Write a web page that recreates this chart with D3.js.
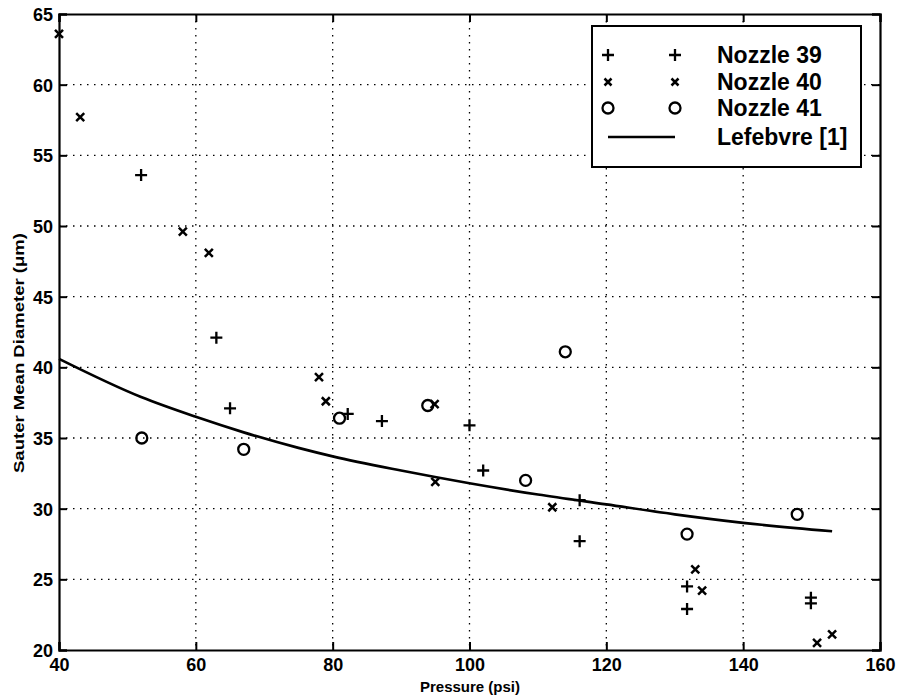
<!DOCTYPE html>
<html><head><meta charset="utf-8">
<script src="https://cdn.jsdelivr.net/npm/d3@7"></script>
<style>body{margin:0;background:#fff;}svg{display:block;}text{font-family:"Liberation Sans",Arial,sans-serif;font-weight:bold;fill:#000;}</style>
</head><body>
<svg id="c" width="898" height="700"></svg>
<script>
const xTicks = [40, 60, 80, 100, 120, 140, 160];
const yTicks = [20, 25, 30, 35, 40, 45, 50, 55, 60, 65];
const nozzle39 = [[52,53.6],[63,42.1],[65,37.1],[82.2,36.7],[87.2,36.2],[100,35.9],[102,32.7],[116.1,30.6],[116.1,27.7],[131.8,24.5],[131.8,22.9],[149.9,23.7],[149.9,23.3]];
const nozzle40 = [[40,63.6],[43.1,57.7],[58.1,49.6],[61.9,48.1],[78,39.3],[79,37.6],[94.9,37.4],[95,31.9],[112.1,30.1],[133,25.7],[134,24.2],[150.8,20.5],[153,21.1]];
const nozzle41 = [[52.1,35],[67,34.2],[81,36.4],[93.9,37.3],[108.2,32],[114,41.1],[131.8,28.2],[147.9,29.6]];
const lefebvre = [[40,40.6],[52,37.9],[60,36.5],[67,35.4],[75,34.3],[80,33.7],[90,32.7],[100,31.8],[110,31.0],[120,30.3],[130,29.6],[140,29.0],[153,28.4]];
const legendLabels = ["Nozzle 39","Nozzle 40","Nozzle 41","Lefebvre [1]"];

(function(){
const svg = d3.select("#c");
const L=59, R=880, T=14, B=650;
const x = d3.scaleLinear().domain([40,160]).range([L,R]);
const y = d3.scaleLinear().domain([20,65]).range([B,T]);

// grid
const g = svg.append("g");
g.selectAll(".gx").data(xTicks.slice(1,-1)).enter().append("line")
  .attr("x1",d=>x(d)).attr("x2",d=>x(d)).attr("y1",T).attr("y2",B)
  .attr("stroke","#000").attr("stroke-width",1.3).attr("stroke-dasharray","1.5,5.5");
g.selectAll(".gy").data(yTicks.slice(1,-1)).enter().append("line")
  .attr("y1",d=>y(d)).attr("y2",d=>y(d)).attr("x1",L).attr("x2",R)
  .attr("stroke","#000").attr("stroke-width",1.3).attr("stroke-dasharray","1.5,5.5");

// axes
const ax = (gen, tr) => svg.append("g").attr("transform",tr).call(gen);
const axB = ax(d3.axisBottom(x).tickValues(xTicks).tickSize(-8).tickPadding(10).tickFormat(d3.format("d")), `translate(0,${B})`);
const axT = ax(d3.axisTop(x).tickValues(xTicks).tickSize(-8).tickFormat(""), `translate(0,${T})`);
const axL = ax(d3.axisLeft(y).tickValues(yTicks).tickSize(-8).tickPadding(6).tickFormat(d3.format("d")), `translate(${L},0)`);
const axR = ax(d3.axisRight(y).tickValues(yTicks).tickSize(-8).tickFormat(""), `translate(${R},0)`);
[axB,axT,axL,axR].forEach(a=>{
  a.select(".domain").attr("stroke","#000").attr("stroke-width",2.2);
  a.selectAll(".tick line").attr("stroke","#000").attr("stroke-width",2);
  a.selectAll("text").style("font-size","18px").style("font-family","'Liberation Sans',Arial,sans-serif").style("font-weight","bold").attr("fill","#000");
});
axL.selectAll("text").attr("dy","0.36em");
axB.selectAll("text").attr("y",21).attr("dy","0");

// axis labels
svg.append("text").attr("x",470).attr("y",692).attr("text-anchor","middle").style("font-size","15px").text("Pressure (psi)");
svg.append("text").attr("transform",`translate(24,353) rotate(-90)`).attr("text-anchor","middle")
  .attr("textLength",240).attr("lengthAdjust","spacingAndGlyphs").style("font-size","15px").text("Sauter Mean Diameter (\u03bcm)");

// line
svg.append("path").datum(lefebvre)
  .attr("d", d3.line().x(d=>x(d[0])).y(d=>y(d[1])).curve(d3.curveMonotoneX))
  .attr("fill","none").attr("stroke","#000").attr("stroke-width",2.7);

// markers
const plus = (sel, s) => sel.append("path").attr("d",`M${-s},0H${s}M0,${-s}V${s}`).attr("stroke","#000").attr("stroke-width",2.3).attr("fill","none");
const cross = (sel, s) => sel.append("path").attr("d",`M${-s},${-s}L${s},${s}M${-s},${s}L${s},${-s}`).attr("stroke","#000").attr("stroke-width",2.5).attr("fill","none");
const circ = (sel, r) => sel.append("circle").attr("r",r).attr("stroke","#000").attr("stroke-width",2.3).attr("fill","none");

const mk = (data, fn, s) => svg.append("g").selectAll("g").data(data).enter().append("g")
  .attr("transform",d=>`translate(${x(d[0])},${y(d[1])})`).each(function(){fn(d3.select(this),s);});
mk(nozzle39, plus, 6);
mk(nozzle40, cross, 4);
mk(nozzle41, circ, 5.5);

// legend
const lg = svg.append("g");
lg.append("rect").attr("x",592).attr("y",26).attr("width",269).attr("height",141).attr("fill","#fff").attr("stroke","#000").attr("stroke-width",2);
const rowsY = [55, 82, 108, 137];
const m1=608, m2=675;
[plus, cross, circ].forEach((fn,i)=>{
  const s = i===0?6:(i===1?3.5:5.5);
  [m1,m2].forEach(mx=>{ const gg=lg.append("g").attr("transform",`translate(${mx},${rowsY[i]})`); fn(gg,s); });
});
lg.append("line").attr("x1",m1).attr("x2",m2).attr("y1",rowsY[3]).attr("y2",rowsY[3]).attr("stroke","#000").attr("stroke-width",2.5);
lg.selectAll("text.l").data(legendLabels).enter().append("text").attr("class","l")
  .attr("x",717).attr("y",(d,i)=>rowsY[i]).attr("dy","0.36em").style("font-size","23px").text(d=>d);
})();
</script>
</body></html>
